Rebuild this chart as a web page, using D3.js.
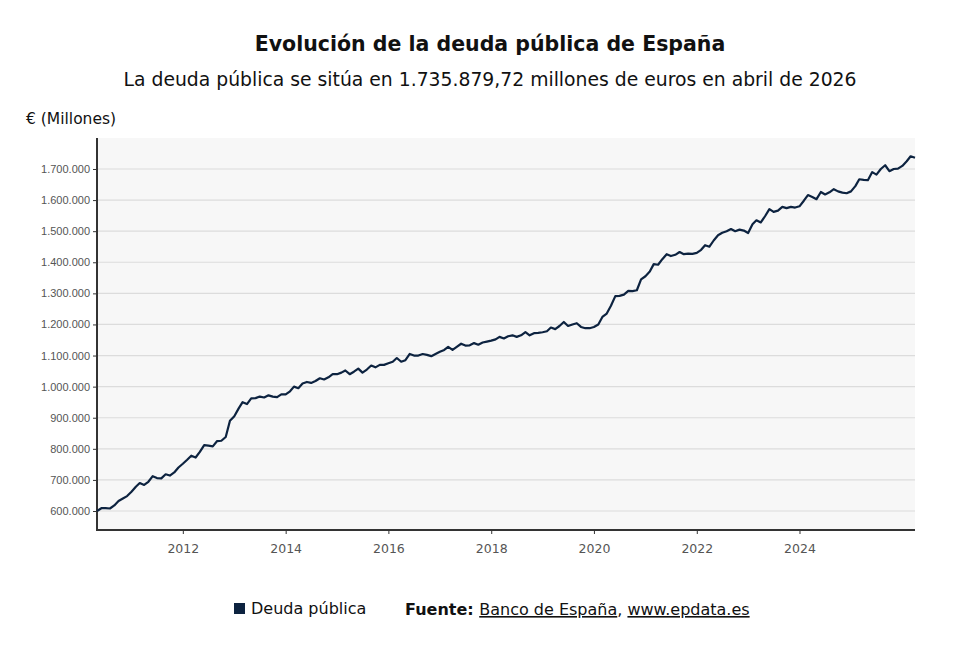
<!DOCTYPE html>
<html><head><meta charset="utf-8">
<script src="https://cdn.jsdelivr.net/npm/d3@7"></script>
<style>body{margin:0;background:#fff}</style></head>
<body><svg id="c" width="980" height="653"></svg>
<script>
const startDate = [2010, 4]; // May 2010 (month index 0-based)
const values = [
600,609,609,608,618,632,640,648,
662,678,690,684,694,712,706,705,718,714,724,740,
752,765,778,772,790,812,810,808,825,826,838,890,
905,930,950,944,962,963,968,965,972,968,966,975,
975,985,1000,995,1010,1015,1012,1018,1027,1023,1030,1040,
1040,1045,1052,1040,1048,1058,1045,1055,1068,1062,1070,1070,
1075,1080,1092,1080,1085,1105,1100,1100,1105,1102,1098,1105,
1112,1118,1128,1118,1128,1138,1132,1133,1140,1135,1142,1145,
1148,1152,1160,1155,1162,1165,1160,1165,1175,1165,1172,1173,
1175,1178,1190,1185,1195,1208,1195,1200,1204,1192,1188,1188,
1192,1200,1224,1235,1260,1291,1292,1296,1308,1307,1310,1345,
1355,1370,1394,1392,1410,1426,1420,1424,1433,1426,1428,1427,
1430,1440,1455,1450,1470,1487,1495,1500,1507,1500,1505,1502,
1494,1522,1535,1528,1548,1571,1562,1566,1578,1574,1578,1576,
1580,1598,1616,1610,1603,1626,1618,1625,1635,1628,1624,1622,
1628,1645,1667,1665,1664,1690,1682,1700,1712,1693,1700,1701,
1710,1725,1741,1735.88
];
const yTicks = [600000,700000,800000,900000,1000000,1100000,1200000,1300000,1400000,1500000,1600000,1700000];
const xTickYears = [2012,2014,2016,2018,2020,2022,2024];

const data = values.map((v,i)=>({d:new Date(startDate[0], startDate[1]+i, 1), v:v*1000}));
const svg = d3.select("#c");
const L=97,R=915,T=138,B=530;
const x = d3.scaleTime().domain(d3.extent(data,d=>d.d)).range([L,R]);
const y = d3.scaleLinear().range([B,T]);
y.domain([600000-(B-511)/0.311*1000, 1700000+(169-T)/0.311*1000]);

svg.append("rect").attr("x",L).attr("y",T).attr("width",R-L).attr("height",B-T).attr("fill","#f7f7f7");
const fmt = v=>d3.format(",")(v).replace(/,/g,".");
svg.append("g").selectAll("line").data(yTicks).join("line")
 .attr("x1",L).attr("x2",R).attr("y1",d=>y(d)).attr("y2",d=>y(d)).attr("stroke","#dcdcdc").attr("stroke-width",1.2);
const ya = svg.append("g").attr("transform",`translate(${L},0)`)
 .call(d3.axisLeft(y).tickValues(yTicks).tickFormat(fmt).tickSize(4).tickSizeOuter(0));
ya.select(".domain").remove();
ya.selectAll("line").attr("stroke","#333");
ya.selectAll("text").attr("font-family","Liberation Sans, Arial").attr("font-size",11).attr("fill","#555");
const xa = svg.append("g").attr("transform",`translate(0,${B})`)
 .call(d3.axisBottom(x).tickValues(xTickYears.map(yr=>new Date(yr,0,1))).tickFormat(d3.timeFormat("%Y")).tickSize(4).tickSizeOuter(0).tickPadding(10));
xa.select(".domain").remove();
xa.selectAll("line").attr("stroke","#333");
xa.selectAll("text").attr("font-family","DejaVu Sans").attr("font-size",12.5).attr("fill","#555");
svg.append("line").attr("x1",L).attr("x2",L).attr("y1",T).attr("y2",B+1).attr("stroke","#333").attr("stroke-width",2);
svg.append("line").attr("x1",L-1).attr("x2",R).attr("y1",B).attr("y2",B).attr("stroke","#333").attr("stroke-width",2);

svg.append("path").datum(data).attr("fill","none").attr("stroke","#0d2340").attr("stroke-width",2.2)
 .attr("stroke-linejoin","round").attr("d",d3.line().x(d=>x(d.d)).y(d=>y(d.v)));

svg.append("text").attr("x",490).attr("y",51).attr("text-anchor","middle").attr("font-family","DejaVu Sans")
 .attr("font-weight","bold").attr("font-size",20.5).attr("fill","#111").text("Evolución de la deuda pública de España");
svg.append("text").attr("x",490).attr("y",86).attr("text-anchor","middle").attr("font-family","DejaVu Sans")
 .attr("font-size",18.8).attr("fill","#111").text("La deuda pública se sitúa en 1.735.879,72 millones de euros en abril de 2026");
svg.append("text").attr("x",26).attr("y",124).attr("font-family","DejaVu Sans").attr("font-size",15.5).attr("fill","#111").text("€ (Millones)");

svg.append("rect").attr("x",234).attr("y",603).attr("width",11).attr("height",11).attr("fill","#0d2340");
svg.append("text").attr("x",251).attr("y",614).attr("font-family","DejaVu Sans").attr("font-size",16).attr("fill","#111").text("Deuda pública");
const src = svg.append("text").attr("x",405).attr("y",615).attr("font-family","DejaVu Sans").attr("font-size",16).attr("fill","#111");
src.append("tspan").attr("font-weight","bold").text("Fuente: ");
src.append("tspan").attr("text-decoration","underline").text("Banco de España");
src.append("tspan").text(", ");
src.append("tspan").attr("text-decoration","underline").text("www.epdata.es");
</script></body></html>
